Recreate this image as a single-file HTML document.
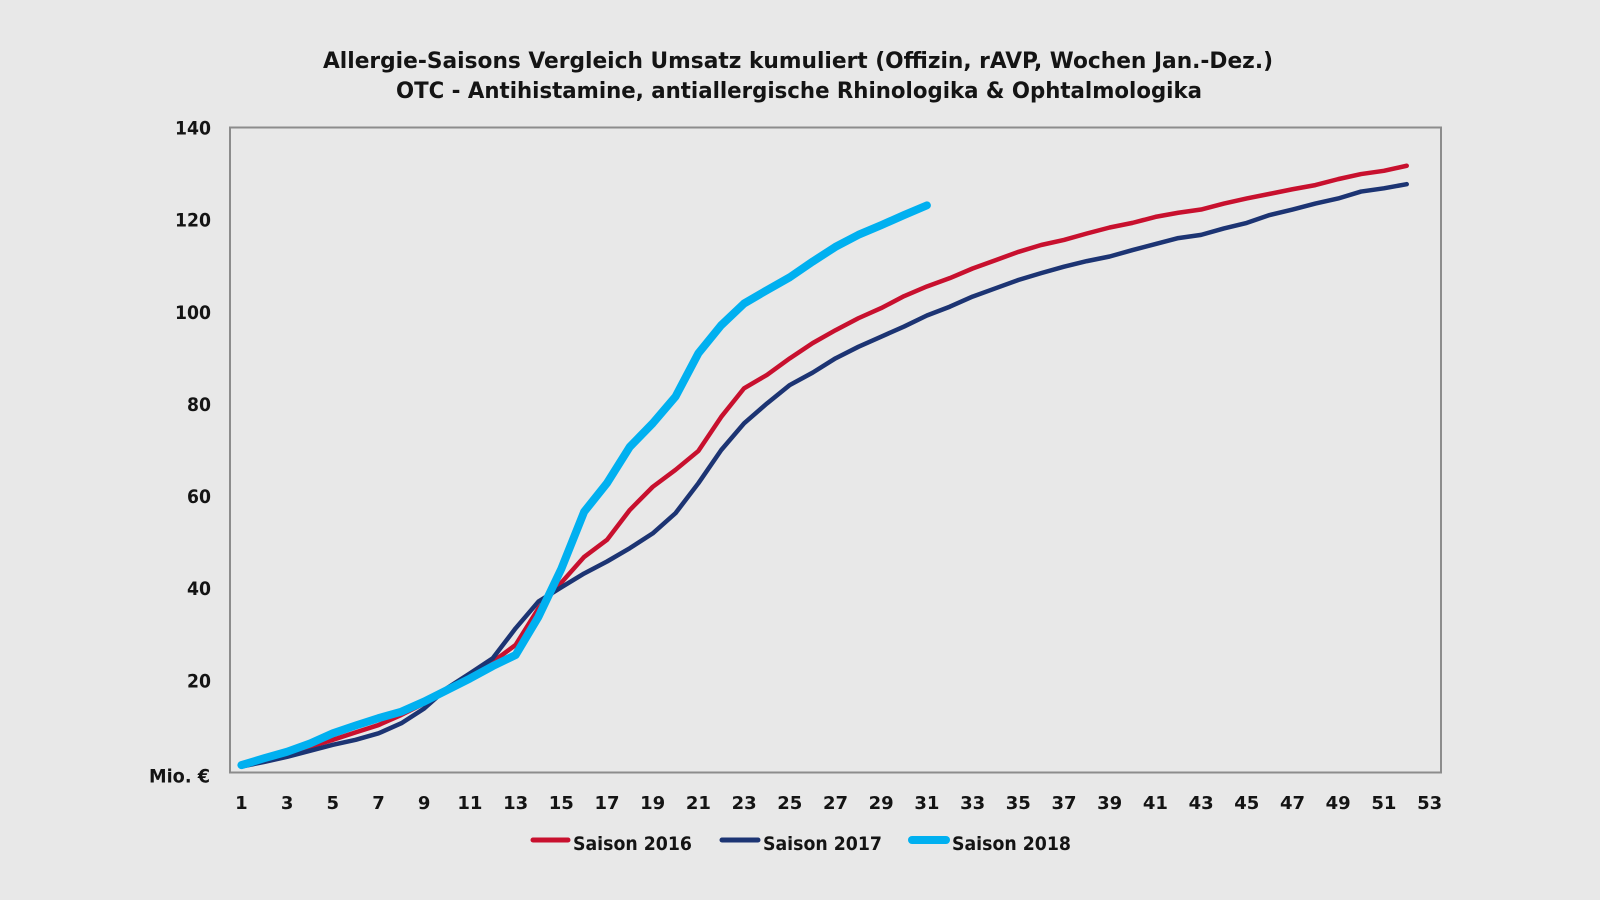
<!DOCTYPE html>
<html>
<head>
<meta charset="utf-8">
<style>
  html, body { margin: 0; padding: 0; background: #e8e8e8; }
  svg { display: block; }
  text { font-family: "DejaVu Sans", "Liberation Sans", sans-serif; font-weight: bold; fill: #141414; }
</style>
</head>
<body>
<svg width="1600" height="900" viewBox="0 0 1600 900" xmlns="http://www.w3.org/2000/svg">
  <rect x="0" y="0" width="1600" height="900" fill="#e8e8e8"/>

  <!-- Title -->
  <text x="323" y="68" font-size="22" textLength="950" lengthAdjust="spacingAndGlyphs">Allergie-Saisons Vergleich Umsatz kumuliert (Offizin, rAVP, Wochen Jan.-Dez.)</text>
  <text x="396" y="98" font-size="22" textLength="806" lengthAdjust="spacingAndGlyphs">OTC - Antihistamine, antiallergische Rhinologika &amp; Ophtalmologika</text>

  <!-- Plot frame -->
  <rect x="230" y="127.5" width="1211" height="645" fill="none" stroke="#8c8c8c" stroke-width="2"/>

  <!-- Y labels -->
  <g font-size="19" text-anchor="end">
    <text x="211" y="134.5" textLength="36" lengthAdjust="spacingAndGlyphs">140</text>
    <text x="211" y="226.7" textLength="36" lengthAdjust="spacingAndGlyphs">120</text>
    <text x="211" y="318.8" textLength="36" lengthAdjust="spacingAndGlyphs">100</text>
    <text x="211" y="411" textLength="24" lengthAdjust="spacingAndGlyphs">80</text>
    <text x="211" y="503.1" textLength="24" lengthAdjust="spacingAndGlyphs">60</text>
    <text x="211" y="595.2" textLength="24" lengthAdjust="spacingAndGlyphs">40</text>
    <text x="211" y="687.4" textLength="24" lengthAdjust="spacingAndGlyphs">20</text>
  </g>
  <text x="149" y="782.5" font-size="19" textLength="61" lengthAdjust="spacingAndGlyphs">Mio. €</text>

  <!-- X labels -->
  <g font-size="18" text-anchor="middle">
    <text x="241.4" y="809">1</text>
    <text x="287.1" y="809">3</text>
    <text x="332.8" y="809">5</text>
    <text x="378.5" y="809">7</text>
    <text x="424.2" y="809">9</text>
    <text x="469.9" y="809">11</text>
    <text x="515.6" y="809">13</text>
    <text x="561.3" y="809">15</text>
    <text x="607.0" y="809">17</text>
    <text x="652.7" y="809">19</text>
    <text x="698.4" y="809">21</text>
    <text x="744.1" y="809">23</text>
    <text x="789.8" y="809">25</text>
    <text x="835.5" y="809">27</text>
    <text x="881.2" y="809">29</text>
    <text x="926.9" y="809">31</text>
    <text x="972.6" y="809">33</text>
    <text x="1018.3" y="809">35</text>
    <text x="1064.0" y="809">37</text>
    <text x="1109.7" y="809">39</text>
    <text x="1155.4" y="809">41</text>
    <text x="1201.1" y="809">43</text>
    <text x="1246.8" y="809">45</text>
    <text x="1292.5" y="809">47</text>
    <text x="1338.2" y="809">49</text>
    <text x="1383.9" y="809">51</text>
    <text x="1429.6" y="809">53</text>
  </g>

  <!-- Series -->
  <g transform="translate(218.575,772.5) scale(22.849,-4.607)" fill="none" stroke-linejoin="round" stroke-linecap="round">
    <!-- Saison 2016 -->
    <polyline vector-effect="non-scaling-stroke" stroke="#c8102e" stroke-width="4.5"
      points="1,1.4 2,2.5 3,3.8 4,5.6 5,7.1 6,8.7 7,10.3 8,12.5 9,15.0 10,18.0 11,21.0 12,24.0 13,27.7 14,35.6 15,41.2 16,46.8 17,50.5 18,57.0 19,62.0 20,65.7 21,69.8 22,77.2 23,83.4 24,86.3 25,89.9 26,93.2 27,96.0 28,98.6 29,100.8 30,103.4 31,105.5 32,107.3 33,109.4 34,111.2 35,113.0 36,114.5 37,115.6 38,117.0 39,118.3 40,119.3 41,120.6 42,121.5 43,122.2 44,123.5 45,124.6 46,125.6 47,126.6 48,127.5 49,128.8 50,129.9 51,130.6 52,131.7"/>
    <!-- Saison 2017 -->
    <polyline vector-effect="non-scaling-stroke" stroke="#1c3473" stroke-width="4.5"
      points="1,1.3 2,2.3 3,3.4 4,4.7 5,6.0 6,7.1 7,8.5 8,10.7 9,13.9 10,18.3 11,21.5 12,24.8 13,31.3 14,37.1 15,40.2 16,43.2 17,45.8 18,48.7 19,51.9 20,56.3 21,62.8 22,70.0 23,75.8 24,80.1 25,84.1 26,86.8 27,89.9 28,92.4 29,94.6 30,96.8 31,99.2 32,101.1 33,103.3 34,105.1 35,106.9 36,108.4 37,109.8 38,111.0 39,112.0 40,113.4 41,114.7 42,116.0 43,116.7 44,118.1 45,119.3 46,121.0 47,122.2 48,123.5 49,124.6 50,126.1 51,126.8 52,127.7"/>
    <!-- Saison 2018 -->
    <polyline vector-effect="non-scaling-stroke" stroke="#00b0f0" stroke-width="8"
      points="1,1.6 2,3.1 3,4.5 4,6.3 5,8.5 6,10.2 7,11.8 8,13.2 9,15.4 10,17.9 11,20.4 12,23.1 13,25.5 14,33.8 15,44.2 16,56.6 17,62.8 18,70.7 19,75.8 20,81.6 21,91.0 22,97.1 23,101.8 24,104.7 25,107.5 26,110.9 27,114.1 28,116.7 29,118.8 30,121.0 31,123.1"/>
  </g>

  <!-- Legend -->
  <line x1="533" y1="840" x2="568" y2="840" stroke="#c8102e" stroke-width="5" stroke-linecap="round"/>
  <text x="573" y="850" font-size="19" textLength="119" lengthAdjust="spacingAndGlyphs">Saison 2016</text>
  <line x1="722" y1="840" x2="758" y2="840" stroke="#1c3473" stroke-width="5" stroke-linecap="round"/>
  <text x="763" y="850" font-size="19" textLength="119" lengthAdjust="spacingAndGlyphs">Saison 2017</text>
  <line x1="912" y1="840" x2="946" y2="840" stroke="#00b0f0" stroke-width="8" stroke-linecap="round"/>
  <text x="952" y="850" font-size="19" textLength="119" lengthAdjust="spacingAndGlyphs">Saison 2018</text>
</svg>
</body>
</html>
